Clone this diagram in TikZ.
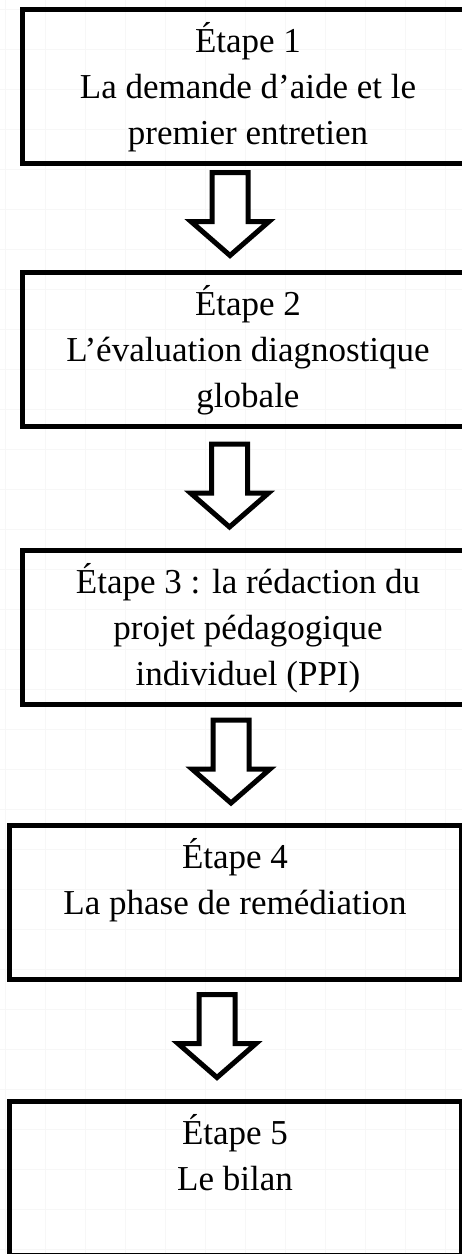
\documentclass[tikz,border=0pt]{standalone}
\usepackage{fontspec}
\setmainfont{Liberation Serif}
\usetikzlibrary{calc}

\tikzset{
  stepbox/.style={draw, line width=5pt, inner sep=0pt, outer sep=0pt, minimum width=452pt, minimum height=154pt},
  arrowline/.style={draw, line width=5pt, fill=white},
  gridline/.style={black!3, line width=1pt}
}

\newcommand{\steptext}[1]{\parbox[c][154pt][t]{452pt}{\centering\fontsize{35pt}{46pt}\selectfont\rule{0pt}{43pt}#1}}
\newcommand{\blockarrow}[1]{%
  \draw[arrowline] ($(#1)+(-18,0)$) -- ++(0,-49) -- ++(-21,0) -- ++(39,-34) -- ++(39,34) -- ++(-21,0) -- ++(0,49) -- cycle;}

\begin{document}
\begin{tikzpicture}[x=1pt, y=1pt]
    \useasboundingbox (0,0) rectangle (462,-1254);
    \fill[white] (0,0) rectangle (462,-1254);

    % background grid
    \foreach \x in {5,45,...,445} \draw[gridline] (\x,0) -- (\x,-1254);
    \foreach \y in {9,49,...,1249} \draw[gridline] (0,-\y) -- (462,-\y);

    \node[stepbox] (etape1) at (248,-86) {\steptext{Étape 1\\La demande d’aide et le\\premier entretien}};
    \node[stepbox] (etape2) at (248,-349.5) {\steptext{Étape 2\\L’évaluation diagnostique\\globale}};
    \node[stepbox] (etape3) at (248,-627.5) {\steptext{Étape 3 : la rédaction du\\projet pédagogique\\individuel (PPI)}};
    \node[stepbox] (etape4) at (235,-902) {\steptext{Étape 4\\La phase de remédiation}};
    \node[stepbox] (etape5) at (235,-1178.5) {\steptext{Étape 5\\Le bilan}};

    % block arrows between the steps
    \coordinate (fleche1) at ($(etape1.south)+(-18,-9.5)$);
    \coordinate (fleche2) at ($(etape2.south)+(-18.5,-17.5)$);
    \coordinate (fleche3) at ($(etape3.south)+(-17,-15.5)$);
    \coordinate (fleche4) at ($(etape4.south)+(-18,-15.5)$);

    \blockarrow{fleche1}
    \blockarrow{fleche2}
    \blockarrow{fleche3}
    \blockarrow{fleche4}
\end{tikzpicture}
\end{document}
